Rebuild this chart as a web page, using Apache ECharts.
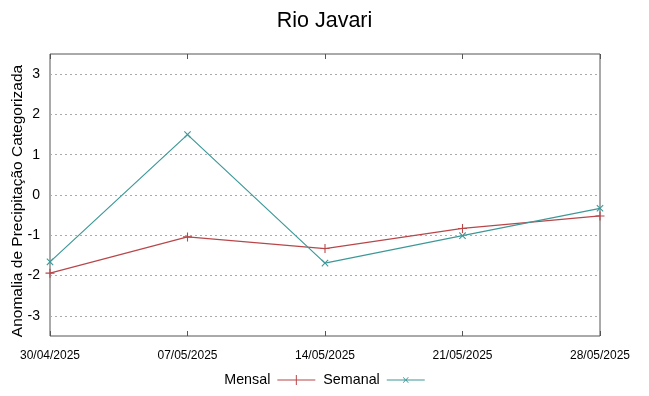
<!DOCTYPE html>
<html><head><meta charset="utf-8">
<script src="https://cdn.jsdelivr.net/npm/echarts@6/dist/echarts.min.js"></script>
<style>html,body{margin:0;padding:0;background:#fff}#c{width:649px;height:396px}</style>
</head><body><div id="c"></div>
<script>
const categories = ['30/04/2025','07/05/2025','14/05/2025','21/05/2025','28/05/2025'];
const mensal = [-1.94, -1.04, -1.33, -0.83, -0.52];
const semanal = [-1.66, 1.50, -1.69, -1.01, -0.33];
const yTicks = [-3, -2, -1, 0, 1, 2, 3];

const plusPath = 'path://M4.4,0H5.6V4.4H10V5.6H5.6V10H4.4V5.6H0V4.4H4.4Z';
const legPlus = 'path://M0,4.5H18.5V0H19.5V4.5H38V5.5H19.5V10H18.5V5.5H0Z';
const legX = 'path://M0,4.5H38V5.5H0Z M16.1,2.6L16.6,2.1L21.9,7.4L21.4,7.9Z M21.4,2.1L21.9,2.6L16.6,7.9L16.1,7.4Z';
const red = '#b8474a', teal = '#3d9898';
const font = 'Liberation Sans, Arial, sans-serif';

const chart = echarts.init(document.getElementById('c'));
chart.setOption({
  animation: false,
  backgroundColor: '#fff',
  title: { text: 'Rio Javari', left: 'center', top: 5, textStyle: { fontSize: 21.5, fontWeight: 'normal', color: '#000', fontFamily: font } },
  grid: { left: 50, right: 49, top: 54, bottom: 60, show: true, borderColor: '#555', borderWidth: 1, outerBoundsMode: 'none', containLabel: false },
  legend: {
    bottom: 4, left: 'center', align: 'right', itemWidth: 38, itemHeight: 10, itemGap: 8,
    textStyle: { fontSize: 14.3, color: '#000', fontFamily: font, padding: [0, 2, 0, 0] },
    data: [{ name: 'Mensal', icon: legPlus }, { name: 'Semanal', icon: legX }]
  },
  xAxis: [{
    type: 'category', data: categories, boundaryGap: false,
    axisLine: { show: false, onZero: false },
    axisTick: { inside: true, length: 5, lineStyle: { color: '#555' } },
    axisLabel: { fontSize: 12, color: '#000', fontFamily: font, margin: 14 },
    splitLine: { show: false }
  }, {
    type: 'category', data: categories, boundaryGap: false, position: 'top',
    axisLine: { show: false, onZero: false },
    axisTick: { inside: true, length: 5, lineStyle: { color: '#555' } },
    axisLabel: { show: false }
  }],
  yAxis: [{
    type: 'value', min: -3.5, max: 3.5,
    name: 'Anomalia de Precipitação Categorizada', nameLocation: 'middle', nameGap: 24,
    nameMoveOverlap: false,
    nameTextStyle: { fontSize: 15.5, color: '#000', fontFamily: font, padding: [0, 12, 0, 0] },
    axisLine: { show: false, onZero: false },
    axisTick: { inside: true, length: 5, customValues: yTicks, lineStyle: { color: '#555' } },
    axisLabel: { fontSize: 14, color: '#000', fontFamily: font, margin: 10, customValues: yTicks },
    splitLine: { show: true, lineStyle: { color: '#aaa', type: [2, 3], width: 1 } }
  }, {
    type: 'value', min: -3.5, max: 3.5, position: 'right',
    axisLine: { show: false, onZero: false },
    axisTick: { inside: true, length: 5, customValues: yTicks, lineStyle: { color: '#555' } },
    axisLabel: { show: false, customValues: yTicks },
    splitLine: { show: false }
  }],
  series: [{
    name: 'Mensal', type: 'line', data: mensal,
    symbol: plusPath, symbolSize: 9,
    lineStyle: { color: red, width: 1.2 }, itemStyle: { color: red }
  }, {
    name: 'Semanal', type: 'line', data: semanal,
    symbol: plusPath, symbolSize: 9, symbolRotate: 45,
    lineStyle: { color: teal, width: 1.2 }, itemStyle: { color: teal }
  }]
});
</script></body></html>
